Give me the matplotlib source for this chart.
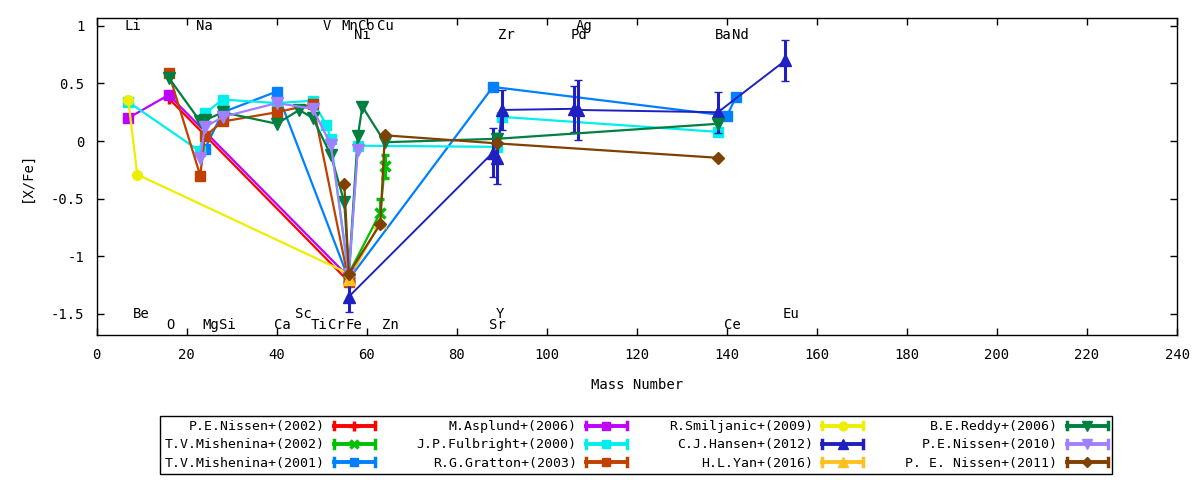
import matplotlib
matplotlib.use("Agg")
import matplotlib.pyplot as plt
from matplotlib.lines import Line2D
from matplotlib.legend_handler import HandlerBase

plt.rcParams['font.family'] = ['DejaVu Sans Mono']
plt.rcParams['font.size'] = 9.5
plt.rcParams['axes.unicode_minus'] = False

# ---------------- data (mass number, [X/Fe], error) ----------------
nissen2002_x = [16, 56]
nissen2002_y = [0.37, -1.22]

mishenina2002_x = [56, 63, 64]
mishenina2002_y = [-1.15, -0.62, -0.22]
mishenina2002_e = [0.0, 0.12, 0.10]

mishenina2001_x = [24, 28, 40, 56, 88, 140, 142]
mishenina2001_y = [-0.07, 0.25, 0.43, -1.20, 0.47, 0.22, 0.38]

asplund_x = [7, 16, 56]
asplund_y = [0.20, 0.40, -1.18]

fulbright_x = [7, 23, 24, 28, 40, 48, 51, 52, 56, 58, 89, 90, 138]
fulbright_y = [0.34, -0.09, 0.24, 0.36, 0.33, 0.35, 0.14, 0.02, -1.20, -0.04, -0.05, 0.21, 0.08]

gratton_x = [16, 23, 24, 28, 40, 48, 56]
gratton_y = [0.59, -0.30, 0.04, 0.17, 0.25, 0.32, -1.22]
gratton_e = [0.0, 0.03, 0.0, 0.0, 0.0, 0.0, 0.0]

smiljanic_x = [7, 9, 56]
smiljanic_y = [0.36, -0.29, -1.15]

hansen_x = [56, 88, 89, 90, 106, 107, 138, 153]
hansen_y = [-1.35, -0.10, -0.15, 0.27, 0.28, 0.27, 0.25, 0.70]
hansen_e = [0.13, 0.21, 0.22, 0.17, 0.20, 0.26, 0.18, 0.18]

yan_x = [56, 63]
yan_y = [-1.20, -0.70]

reddy_x = [16, 23, 24, 28, 40, 45, 48, 52, 55, 56, 58, 59, 64, 89, 138]
reddy_y = [0.55, 0.17, 0.18, 0.25, 0.15, 0.27, 0.20, -0.12, -0.53, -1.15, 0.04, 0.30, -0.01, 0.02, 0.15]

nissen2010_x = [23, 24, 28, 40, 48, 52, 56, 58]
nissen2010_y = [-0.15, 0.12, 0.21, 0.33, 0.28, -0.03, -1.15, -0.08]

nissen2011_x = [55, 56, 63, 64, 89, 138]
nissen2011_y = [-0.37, -1.15, -0.72, 0.05, -0.02, -0.145]

series_labels = ["P.E.Nissen+(2002)", "T.V.Mishenina+(2002)", "T.V.Mishenina+(2001)",
                 "M.Asplund+(2006)", "J.P.Fulbright+(2000)", "R.G.Gratton+(2003)",
                 "R.Smiljanic+(2009)", "C.J.Hansen+(2012)", "H.L.Yan+(2016)",
                 "B.E.Reddy+(2006)", "P.E.Nissen+(2010)", "P. E. Nissen+(2011)"]

# element labels: name, x position, y position
element_names = ["Li", "Na", "V", "Mn", "Co", "Cu", "Ag",
                 "Ni", "Zr", "Pd", "Ba", "Nd",
                 "Be", "Sc", "Y", "Eu",
                 "O", "Mg", "Si", "Ca", "Ti", "Cr", "Fe", "Zn", "Sr", "Ce"]
element_x = [8.0, 24.0, 51.2, 56.1, 59.8, 64.1, 108.3,
             59.1, 91.1, 107.1, 139.1, 143.0,
             10.0, 46.0, 89.6, 154.3,
             16.3, 25.3, 29.0, 41.2, 49.4, 53.2, 57.1, 65.2, 89.0, 141.1]
element_y = [1.0] * 7 + [0.92] * 5 + [-1.5] * 4 + [-1.6] * 10

# ---------------- styles ----------------
colors = ["#ff0000", "#00c000", "#0080ff", "#c000ff", "#00eeee", "#c04000",
          "#eeee00", "#2020c0", "#ffc020", "#008040", "#a080ff", "#804000"]
markers = ["+", "x", "s", "s", "s", "s", "o", "^", "^", "v", "v", "D"]
msizes = [8, 7, 6.5, 6.5, 6.5, 6.5, 7, 8, 8, 8.5, 8.5, 6]

data = [
    (nissen2002_x, nissen2002_y, None),
    (mishenina2002_x, mishenina2002_y, mishenina2002_e),
    (mishenina2001_x, mishenina2001_y, None),
    (asplund_x, asplund_y, None),
    (fulbright_x, fulbright_y, None),
    (gratton_x, gratton_y, gratton_e),
    (smiljanic_x, smiljanic_y, None),
    (hansen_x, hansen_y, hansen_e),
    (yan_x, yan_y, None),
    (reddy_x, reddy_y, None),
    (nissen2010_x, nissen2010_y, None),
    (nissen2011_x, nissen2011_y, None),
]

fig = plt.figure(figsize=(12, 4.8), dpi=100)
ax = fig.add_axes([0.0806, 0.3015, 0.9003, 0.6615])

handles = []
for i, (xs, ys, es) in enumerate(data):
    c = colors[i]
    m = markers[i]
    mew = 2.5 if m in ['+', 'x'] else 1
    lw = 1.4 if i == 7 else 1.6
    if es is not None:
        ax.errorbar(xs, ys, yerr=es, color=c, marker=m, ms=msizes[i], mew=mew,
                    lw=lw, elinewidth=2.2, capsize=3, capthick=2.2, zorder=3 + i)
    else:
        ax.plot(xs, ys, color=c, marker=m, ms=msizes[i], mew=mew, lw=lw, zorder=3 + i)
    handles.append(Line2D([], [], color=c, marker=m, ms=msizes[i], mew=mew))

for name, x, y in zip(element_names, element_x, element_y):
    ax.text(x, y, name, ha='center', va='center', fontsize=10, zorder=30)

ax.set_xlim(0, 240)
ax.set_ylim(-1.685, 1.07)
ax.set_xticks(range(0, 241, 20))
ax.set_yticks([-1.5, -1, -0.5, 0, 0.5, 1])
ax.set_yticklabels(["-1.5", "-1", "-0.5", "0", "0.5", "1"])
ax.tick_params(direction='in', top=True, right=True, length=5, width=1, labelsize=10, pad=9)
for s in ax.spines.values():
    s.set_linewidth(1)
ax.set_xlabel("Mass Number", fontsize=10, labelpad=12)
ax.set_ylabel("[X/Fe]", fontsize=10, labelpad=12)


class GnuErr(HandlerBase):
    def create_artists(self, legend, orig, xd, yd, w, h, fs, trans):
        c = orig.get_color()
        y = h / 2 - yd
        x0, x1 = -xd, w - xd
        cap = h * 0.42
        arts = [Line2D([x0, x1], [y, y], color=c, lw=2.8),
                Line2D([x0, x0], [y - cap, y + cap], color=c, lw=2.5),
                Line2D([x1, x1], [y - cap, y + cap], color=c, lw=2.5),
                Line2D([(x0 + x1) / 2], [y], marker=orig.get_marker(),
                       ms=orig.get_markersize() * 0.9, mew=orig.get_markeredgewidth(),
                       color=c, ls='none')]
        for a in arts:
            a.set_transform(trans)
        return arts


leg = fig.legend(handles, series_labels, loc='center', bbox_to_anchor=(0.53, 0.073),
                 ncol=4, markerfirst=False, fancybox=False, edgecolor='black',
                 framealpha=1, fontsize=9.5, handlelength=3.1, handletextpad=0.7,
                 columnspacing=3.2, labelspacing=0.4, borderpad=0.35,
                 handler_map={Line2D: GnuErr()})
leg.get_frame().set_linewidth(1)

fig.savefig("out.png", dpi=100)
